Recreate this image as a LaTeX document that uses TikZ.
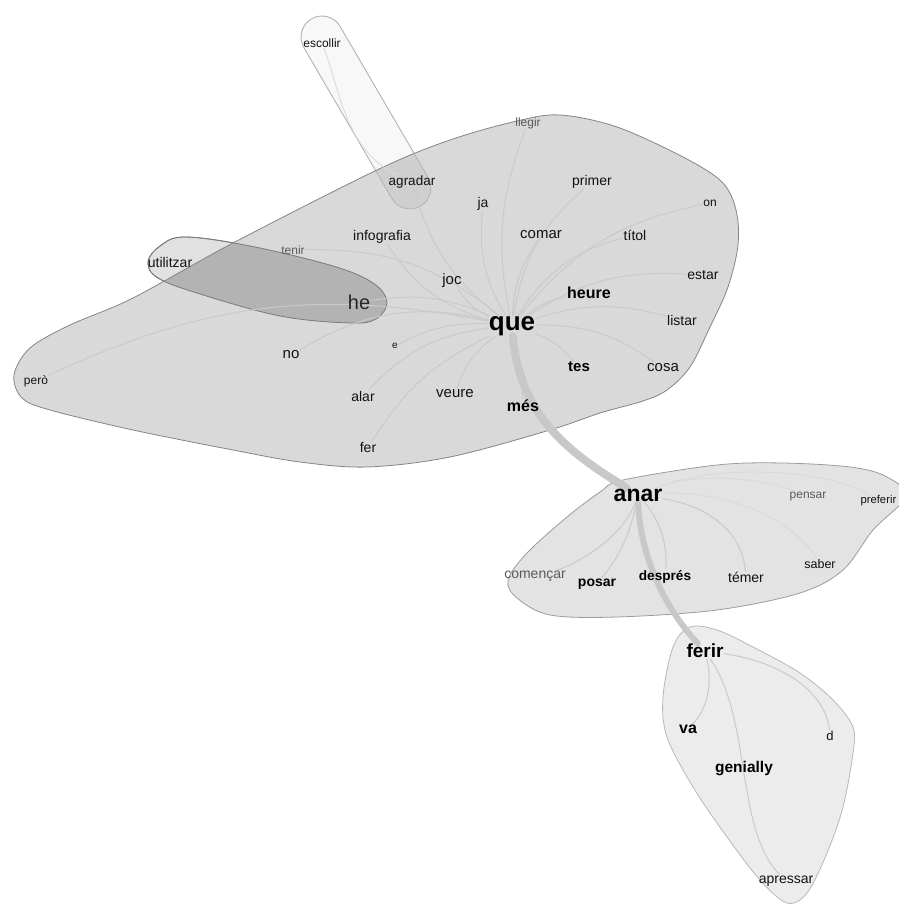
\documentclass[tikz,border=0pt]{standalone}
\usepackage{fontspec}
\setmainfont{Liberation Sans}
\pgfdeclarelayer{blobs}
\pgfdeclarelayer{links}
\pgfsetlayers{blobs,links,main}

\definecolor{blobA}{HTML}{D9D9D9}
\definecolor{blobAline}{HTML}{858585}
\definecolor{blobB}{HTML}{E3E3E3}
\definecolor{blobBline}{HTML}{9C9C9C}
\definecolor{blobC}{HTML}{ECECEC}
\definecolor{blobCline}{HTML}{B8B8B8}
\definecolor{capLight}{HTML}{F8F8F8}
\definecolor{capLine}{HTML}{D6D6D6}
\definecolor{capDark}{HTML}{CFCFCF}
\definecolor{ellLight}{HTML}{E1E1E1}
\definecolor{ellDark}{HTML}{B3B3B3}
\definecolor{ellLine}{HTML}{7A7A7A}
\definecolor{linkgray}{HTML}{CACACA}
\definecolor{bandgray}{HTML}{C8C8C8}
\definecolor{inkgray}{HTML}{5A5A5A}

% outlines of the word groups (pixel-like units, y downwards)
\def\mainoutline{plot[smooth cycle, tension=0.55] coordinates {
  (14,375) (30,348) (70,325) (133,298) (233,243) (377,170) (450,140)
  (517,121) (560,115) (617,127) (683,157) (722,182) (736,210) (738,245)
  (728,287) (710,327) (690,367) (667,390) (643,401) (600,413) (550,430)
  (450,457) (367,467) (300,462) (233,450) (133,430) (50,410) (22,398)}}
\def\ellipseoutline{plot[smooth cycle, tension=0.6] coordinates {
  (148,262) (160,246) (185,237) (250,246) (333,266) (373,283) (387,302)
  (376,319) (350,323) (280,316) (200,294) (158,278)}}
\def\capsuleoutline{[rounded corners=20.9pt] (329.5,8.3) -- (293.3,29.5)
  -- (402.5,216.7) -- (438.7,195.5) -- cycle}

\begin{document}
\begin{tikzpicture}[x=1pt,y=-1pt,
  word/.style={inner sep=0.5pt, text=black!93, font=\fontsize{#1}{#1}\selectfont},
  bword/.style={inner sep=0.5pt, text=black, font=\fontsize{#1}{#1}\selectfont\bfseries},
  gword/.style={inner sep=0.5pt, text=inkgray, font=\fontsize{#1}{#1}\selectfont},
  link/.style={draw=linkgray, line width=1pt},
  faint/.style={draw=linkgray!70, line width=0.9pt},
  band/.style={draw=bandgray, line width=#1, line cap=round},
]
\useasboundingbox (0,0) rectangle (898,904);

% ---------- words: large group ----------
\node[word=12] (escollir) at (322,43) {escollir};
\node[gword=12] (llegir) at (528,123) {llegir};
\node[word=13.5] (agradar) at (412,182) {agradar};
\node[word=14] (ja) at (483,204) {ja};
\node[word=14] (primer) at (592,182) {primer};
\node[word=12] (on) at (710,203) {on};
\node[word=14] (infografia) at (382,237) {infografia};
\node[word=15] (comar) at (541,235) {comar};
\node[word=14] (titol) at (635,235) {títol};
\node[gword=12] (tenir) at (293,250) {tenir};
\node[word=14] (utilitzar) at (170,262) {utilitzar};
\node[word=15] (joc) at (452,281) {joc};
\node[word=14] (estar) at (703,275) {estar};
\node[bword=16] (heure) at (589,293) {heure};
\node[word=20, text=black!85] (he) at (359,302) {he};
\node[word=14] (listar) at (682,320) {listar};
\node[bword=26] (que) at (512,326) {que};
\node[word=15] (no) at (291,355) {no};
\node[word=10] (e) at (395,346) {e};
\node[bword=15] (tes) at (579,367) {tes};
\node[word=15] (cosa) at (663,368) {cosa};
\node[word=12] (pero) at (36,381) {però};
\node[word=14] (alar) at (363,396) {alar};
\node[word=15] (veure) at (455,394) {veure};
\node[bword=16] (mes) at (523,406) {més};
\node[word=14] (fer) at (368,447) {fer};

% ---------- words: middle group ----------
\node[bword=23] (anar) at (638,495) {anar};
\node[gword=12] (pensar) at (808,497) {pensar};
\node[word=11.3, anchor=east] (preferir) at (897,501) {preferir};
\node[gword=14] (comencar) at (535,576) {començar};
\node[bword=14] (posar) at (597,584) {posar};
\node[bword=13.6] (despres) at (665,577) {després};
\node[word=14] (temer) at (746,577) {témer};
\node[word=12.5] (saber) at (820,564) {saber};

% ---------- words: lower group ----------
\node[bword=19] (ferir) at (705,651) {ferir};
\node[bword=16] (va) at (688,729) {va};
\node[word=13] (d) at (830,736) {d};
\node[bword=15.5] (genially) at (744,769) {genially};
\node[word=14] (apressar) at (786,881) {apressar};

% ---------- group shapes ----------
\begin{pgfonlayer}{blobs}
  \path[fill=capLight, draw=capLine, line width=0.8pt] \capsuleoutline;
  \path[fill=ellLight, draw=ellLine, line width=0.8pt] \ellipseoutline;
  \path[fill=blobA] \mainoutline;
  \begin{scope}
    \clip \mainoutline;
    \path[fill=capDark] \capsuleoutline;
    \path[fill=ellDark] \ellipseoutline;
  \end{scope}
  \path[draw=capLine!80!black, line width=0.6pt] \capsuleoutline;
  \path[draw=ellLine, line width=0.8pt] \ellipseoutline;
  \path[draw=blobAline, line width=0.8pt] \mainoutline;

  \path[fill=blobB, draw=blobBline, line width=0.8pt]
    plot[smooth cycle, tension=0.55] coordinates {
    (600,492) (623,480) (717,465) (783,463) (850,467) (885,476) (906,496)
    (873,530) (843,570) (800,593) (717,610) (617,617) (550,615) (517,598)
    (508,580) (527,553) (567,517)};
  \path[fill=blobC, draw=blobCline, line width=0.8pt]
    plot[smooth cycle, tension=0.55] coordinates {
    (690,627) (673,647) (663,697) (667,737) (693,787) (727,837) (760,880)
    (787,903) (807,893) (827,853) (843,807) (853,753) (853,727) (833,700)
    (800,673) (753,647) (717,630)};
\end{pgfonlayer}

% ---------- connectors ----------
\begin{pgfonlayer}{links}
  % links between the groups
  \draw[band=8pt] (que) .. controls (520,420) and (575,456) .. (anar);
  \draw[band=6pt] (anar) .. controls (640,560) and (668,612) .. (ferir);

  % large group
  \foreach \w/\b in {ja/18, comar/15, primer/20, titol/22, on/20, estar/18,
      heure/14, listar/16, cosa/18, tes/14, veure/-18, alar/-20, fer/-16,
      e/-15, no/-22, pero/-18, he/-16, joc/15, infografia/20, agradar/18,
      llegir/16, tenir/-20}
    \draw[link] (que) to[bend left=\b] (\w);
  \draw[link] (que) to[bend left=6] (mes);
  \draw[faint] (escollir) .. controls (340,90) and (345,150) .. (agradar);

  % middle group
  \draw[link] (anar) .. controls (622,540) and (572,566) .. (comencar);
  \draw[link] (anar) .. controls (628,545) and (612,565) .. (posar);
  \draw[link] (anar) .. controls (660,520) and (668,545) .. (despres);
  \draw[link] (anar) .. controls (705,505) and (742,530) .. (temer);
  \draw[faint] (anar) .. controls (720,490) and (790,515) .. (saber);
  \draw[faint] (anar) .. controls (700,470) and (770,480) .. (pensar);
  \draw[faint] (anar) .. controls (720,462) and (830,470) .. (preferir);

  % lower group
  \draw[link] (ferir) .. controls (714,690) and (704,712) .. (va);
  \draw[link] (ferir) .. controls (752,720) and (735,830) .. (apressar);
  \draw[link] (ferir) .. controls (782,662) and (826,692) .. (d);
\end{pgfonlayer}
\end{tikzpicture}
\end{document}
